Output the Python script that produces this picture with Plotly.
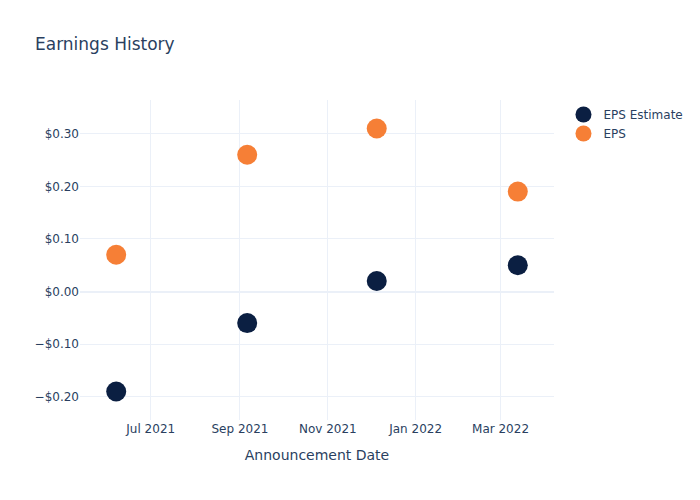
import plotly.graph_objects as go

dates = ["2021-06-07", "2021-09-06", "2021-12-05", "2022-03-13"]
eps_estimate = [-0.19, -0.06, 0.02, 0.05]
eps_actual = [0.07, 0.26, 0.31, 0.19]

fig = go.Figure()
fig.add_trace(go.Scatter(x=dates, y=eps_estimate, mode="markers", name="EPS Estimate",
                         marker=dict(color="#0b1f42", size=20)))
fig.add_trace(go.Scatter(x=dates, y=eps_actual, mode="markers", name="EPS",
                         marker=dict(color="#f67f36", size=20)))
fig.update_layout(
    template="plotly_white",
    width=700, height=500,
    font=dict(family="DejaVu Sans"),
    title=dict(text="Earnings History"),
    xaxis=dict(title=dict(text="Announcement Date")),
    yaxis=dict(tickformat="$.2f"),
)
fig.write_html("out.html")
